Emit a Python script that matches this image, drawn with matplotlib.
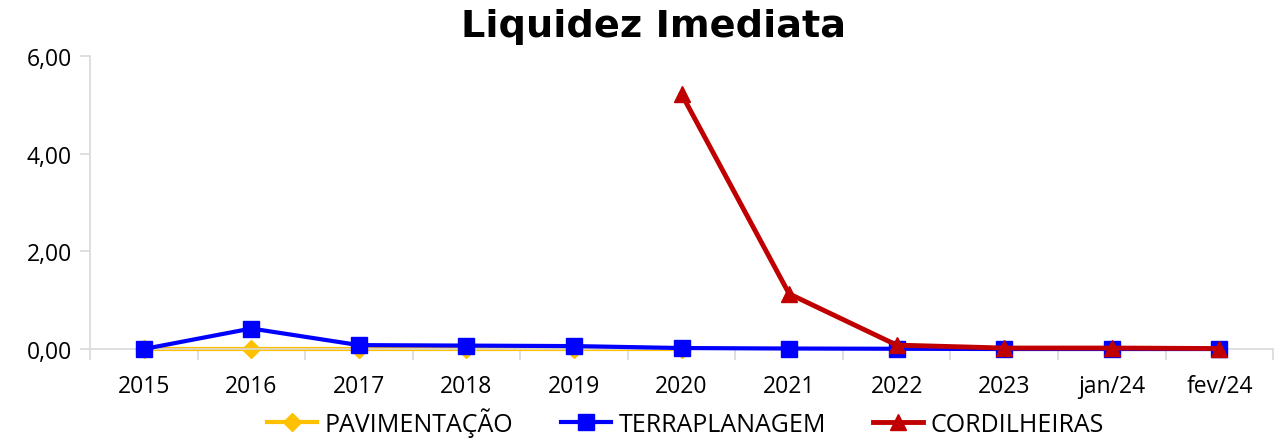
import numpy as np
import matplotlib.pyplot as plt

categorias = ['2015', '2016', '2017', '2018', '2019', '2020', '2021', '2022', '2023', 'jan/24', 'fev/24']
pavimentacao = [0.00, 0.00, 0.00, 0.00, 0.00, 0.00]
terraplanagem = [0.00, 0.42, 0.08, 0.07, 0.06, 0.02, 0.01, 0.005, 0.00, 0.00, 0.00]
cordilheiras = [5.22, 1.13, 0.08, 0.02, 0.02, 0.01]

plt.rcParams['font.family'] = ['Open Sans', 'DejaVu Sans']

fig = plt.figure(figsize=(12.77, 4.39), dpi=100)
ax = fig.add_axes([0.0705, 0.2027, 0.9265, 0.6673])

x = np.arange(len(categorias))
ax.plot(x[:len(pavimentacao)], pavimentacao, color='#ffc000', lw=3, marker='D',
        ms=9, label='PAVIMENTAÇÃO', zorder=2, clip_on=False)
ax.plot(x, terraplanagem, color='#0000ff', lw=3, marker='s', ms=11,
        label='TERRAPLANAGEM', zorder=3, clip_on=False)
ax.plot(x[5:], cordilheiras, color='#c00000', lw=3.5, marker='^', ms=12,
        label='CORDILHEIRAS', zorder=4, clip_on=False)

ax.set_xlim(-0.5, len(categorias) - 0.5)
ax.set_ylim(0, 6)
ax.set_yticks([0, 2, 4, 6])
ax.set_yticklabels(['0,00', '2,00', '4,00', '6,00'])
ax.set_xticks(x)
ax.set_xticklabels(categorias)
ax.set_xticks(np.arange(-0.5, len(categorias)), minor=True)
ax.tick_params(axis='x', which='major', length=0, pad=18, labelsize=16.5)
ax.tick_params(axis='x', which='minor', length=8, color='#d9d9d9', width=1.2)
ax.tick_params(axis='y', length=7, color='#d9d9d9', width=1.2, labelsize=16.5, pad=6)

for s in ['top', 'right']:
    ax.spines[s].set_visible(False)
for s in ['left', 'bottom']:
    ax.spines[s].set_color('#d9d9d9')
    ax.spines[s].set_linewidth(1.2)

fig.text(0.512, 0.938, 'Liquidez Imediata', fontsize=27.5, fontweight='bold',
         family='DejaVu Sans', ha='center', va='center')

fig.legend(loc='center', bbox_to_anchor=(0.537, 0.036), ncol=3,
           frameon=False, fontsize=18, handlelength=2.0, columnspacing=1.9,
           handletextpad=0.3, borderpad=0)

fig.savefig('out.png', dpi=100)
